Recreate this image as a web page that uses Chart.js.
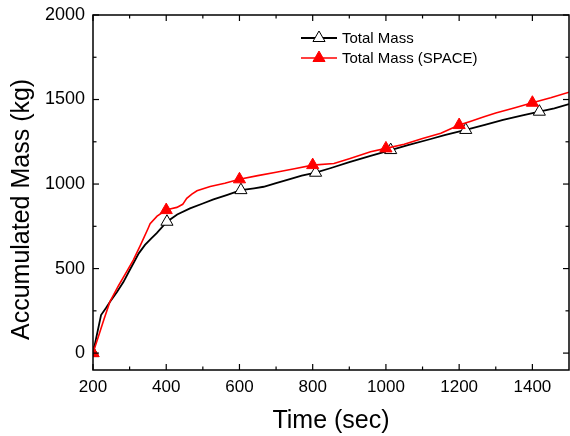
<!DOCTYPE html>
<html><head><meta charset="utf-8">
<script src="https://cdn.jsdelivr.net/npm/chart.js@4/dist/chart.umd.min.js"></script>
<style>html,body{margin:0;padding:0;background:#fff;}</style>
</head><body>
<canvas id="c" width="570" height="436" style="display:block"></canvas>
<script>
// ---- data ----
const xTickValues = [200, 400, 600, 800, 1000, 1200, 1400];
const xMinorValues = [300, 500, 700, 900, 1100, 1300];
const yTickValues = [0, 500, 1000, 1500, 2000];
const yMinorValues = [250, 750, 1250, 1750];

const seriesNames = ['Total Mass', 'Total Mass (SPACE)'];

const totalTime = [200,222,235,247,265,283,300,310,325,342,360,374,402,430,465,500,529,565,604,640,666,700,740,770,808,850,900,958,1013,1060,1120,1160,1218,1270,1320,1370,1419,1460,1500];
const totalMass = [0,225,265,305,360,420,490,530,590,640,680,710,777,820,856,885,909,935,964,975,984,1005,1030,1050,1067,1095,1130,1166,1201,1230,1265,1290,1320,1350,1380,1405,1428,1448,1473];
const totalMarkerTimes = [200, 402, 604, 808, 1013, 1218, 1419];

const spaceTime = [200,215,230,246,270,290,310,330,351,356,375,400,410,429,445,456,470,484,520,560,600,650,700,750,800,858,900,958,1000,1050,1100,1150,1200,1230,1268,1300,1350,1400,1450,1500];
const spaceMass = [0,100,200,303,400,475,550,640,740,765,810,846,852,862,880,915,940,960,985,1005,1028,1050,1070,1090,1112,1122,1150,1191,1211,1235,1270,1300,1349,1370,1398,1420,1450,1481,1510,1543];
const spaceMarkerTimes = [200, 400, 600, 800, 1000, 1200, 1400];

const FONT = '"Liberation Sans", Arial, Helvetica, sans-serif';

function toPoints(xs, ys) { return xs.map((x, i) => ({ x: x, y: ys[i] })); }
function markerRadius(times, r) {
  return ctx => (ctx.raw && times.includes(ctx.raw.x)) ? r : 0;
}

function drawTri(ctx, x, y, r, fill, stroke) {
  ctx.beginPath();
  for (let k = 0; k < 3; k++) {
    const a = -Math.PI / 2 + k * 2 * Math.PI / 3;
    const px = x + r * Math.cos(a), py = y + r * Math.sin(a);
    if (k === 0) ctx.moveTo(px, py); else ctx.lineTo(px, py);
  }
  ctx.closePath();
  ctx.fillStyle = fill; ctx.fill();
  ctx.lineWidth = 1; ctx.strokeStyle = stroke; ctx.stroke();
}

const framePlugin = {
  id: 'frame',
  afterDraw(chart) {
    const { ctx, chartArea: a, scales } = chart;
    const xs = scales.x, ys = scales.y;
    ctx.save();
    ctx.strokeStyle = '#000';
    ctx.lineWidth = 1.5;
    ctx.strokeRect(a.left, a.top, a.right - a.left, a.bottom - a.top);
    ctx.lineWidth = 1.2;
    const tick = (x1, y1, x2, y2) => { ctx.beginPath(); ctx.moveTo(x1, y1); ctx.lineTo(x2, y2); ctx.stroke(); };
    xTickValues.forEach(v => { const p = xs.getPixelForValue(v); tick(p, a.bottom, p, a.bottom - 6); tick(p, a.top, p, a.top + 6); });
    xMinorValues.forEach(v => { const p = xs.getPixelForValue(v); tick(p, a.bottom, p, a.bottom - 3.5); tick(p, a.top, p, a.top + 3.5); });
    yTickValues.forEach(v => { const p = ys.getPixelForValue(v); tick(a.left, p, a.left + 6, p); tick(a.right, p, a.right - 6, p); });
    yMinorValues.forEach(v => { const p = ys.getPixelForValue(v); tick(a.left, p, a.left + 3.5, p); tick(a.right, p, a.right - 3.5, p); });

    // axis titles
    ctx.fillStyle = '#000';
    ctx.font = '25px ' + FONT;
    ctx.textAlign = 'center';
    ctx.textBaseline = 'middle';
    ctx.fillText('Time (sec)', (a.left + a.right) / 2, 421);
    ctx.save();
    ctx.translate(22, 340);
    ctx.rotate(-Math.PI / 2);
    ctx.textAlign = 'left';
    ctx.fillText('Accumulated Mass (kg)', 0, 0);
    ctx.restore();

    // legend
    ctx.font = '15px ' + FONT;
    ctx.textAlign = 'left';
    ctx.textBaseline = 'middle';
    chart.data.datasets.forEach((ds, i) => {
      const y = 38 + i * 20;
      ctx.strokeStyle = ds.borderColor;
      ctx.lineWidth = ds.borderWidth;
      tick(301, y, 337, y);
      drawTri(ctx, 319, y, 7, ds.pointBackgroundColor, ds.pointBorderColor);
      ctx.fillStyle = '#000';
      ctx.fillText(ds.label, 342, y + 1);
    });
    ctx.restore();
  }
};

new Chart(document.getElementById('c'), {
  type: 'scatter',
  data: {
    datasets: [
      {
        label: seriesNames[0],
        data: toPoints(totalTime, totalMass),
        showLine: true,
        borderColor: '#000000',
        borderWidth: 1.8,
        pointStyle: 'triangle',
        pointRadius: markerRadius(totalMarkerTimes, 7),
        pointHoverRadius: 0,
        pointBackgroundColor: '#ffffff',
        pointBorderColor: '#000000',
        pointBorderWidth: 1,
        order: 1,
        tension: 0
      },
      {
        label: seriesNames[1],
        data: toPoints(spaceTime, spaceMass),
        showLine: true,
        borderColor: '#ff0000',
        borderWidth: 1.6,
        pointStyle: 'triangle',
        pointRadius: markerRadius(spaceMarkerTimes, 7),
        pointHoverRadius: 0,
        pointBackgroundColor: '#ff0000',
        pointBorderColor: '#ff0000',
        pointBorderWidth: 1,
        order: 0,
        tension: 0
      }
    ]
  },
  options: {
    responsive: false,
    animation: false,
    devicePixelRatio: 1,
    clip: 0,
    layout: { autoPadding: false, padding: { left: 0, right: 1, top: 15, bottom: 0 } },
    plugins: { legend: { display: false }, tooltip: { enabled: false } },
    scales: {
      x: {
        type: 'linear', min: 200, max: 1500,
        afterBuildTicks: s => { s.ticks = xTickValues.map(v => ({ value: v })); },
        afterFit: s => { s.height = 66; s.paddingLeft = 0; s.paddingRight = 0; },
        grid: { display: false, drawTicks: false },
        border: { display: false },
        ticks: { color: '#000', font: { family: FONT, size: 17 }, padding: 7, maxRotation: 0, autoSkip: false,
                 callback: v => String(v) }
      },
      y: {
        type: 'linear', min: -100, max: 2000,
        afterBuildTicks: s => { s.ticks = yTickValues.map(v => ({ value: v })); },
        afterFit: s => { s.width = 93; s.paddingTop = 0; s.paddingBottom = 0; },
        grid: { display: false, drawTicks: false },
        border: { display: false },
        ticks: { color: '#000', font: { family: FONT, size: 18 }, padding: 8, autoSkip: false,
                 callback: v => String(v) }
      }
    }
  },
  plugins: [framePlugin]
});
</script>
</body></html>
